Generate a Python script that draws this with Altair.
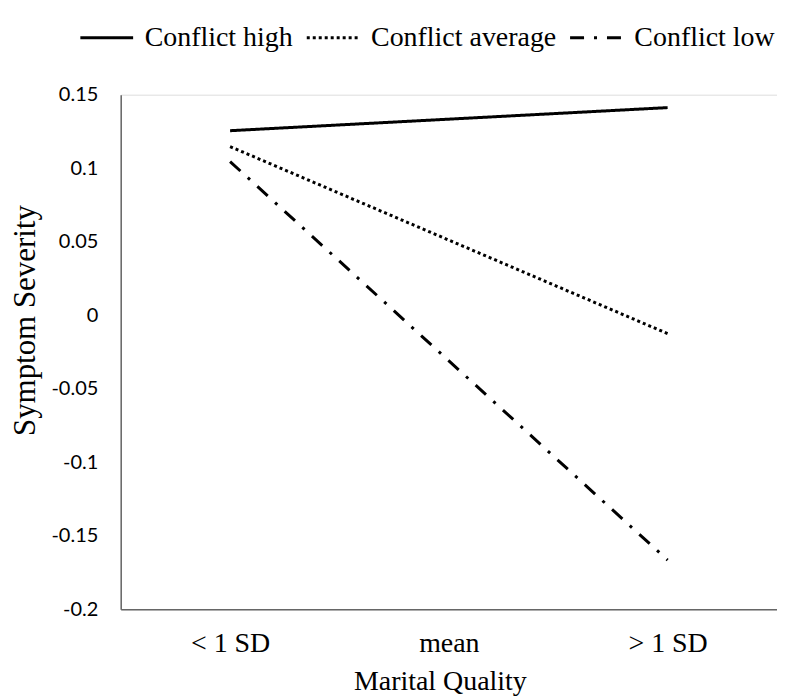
import altair as alt
import pandas as pd

categories = ["< 1 SD", "mean", "> 1 SD"]
series = ["Conflict high", "Conflict average", "Conflict low"]
x_points = ["< 1 SD", "> 1 SD"]
high = [0.1255, 0.1412]
average = [0.1147, -0.0125]
low = [0.1045, -0.1665]
y_ticks = [-0.2, -0.15, -0.1, -0.05, 0, 0.05, 0.1, 0.15]

rows = []
for name, vals in zip(series, [high, average, low]):
    for xp, v in zip(x_points, vals):
        rows.append({"quality": xp, "severity": v, "series": name})
df = pd.DataFrame(rows)

serif = "Liberation Serif"

chart = alt.Chart(df).mark_line(color="black", strokeWidth=3, strokeCap="butt").encode(
    x=alt.X("quality:N", sort=categories,
            scale=alt.Scale(type="point", domain=categories, padding=0.5),
            axis=alt.Axis(title="Marital Quality", labelAngle=0, ticks=False, grid=False,
                          labelFont=serif, labelFontSize=28, labelColor="black",
                          labelPadding=20, labelBaseline="top",
                          titleFont=serif, titleFontSize=28, titleFontWeight="normal",
                          titleColor="black", titleX=320, titleY=80,
                          titleBaseline="alphabetic",
                          domainColor="#666666", domainWidth=1.5)),
    y=alt.Y("severity:Q", scale=alt.Scale(domain=[-0.2, 0.15], nice=False, zero=False),
            axis=alt.Axis(title="Symptom Severity", values=y_ticks, ticks=False, grid=False,
                          labelExpr="toString(datum.value)",
                          labelFont="Lato", labelFontSize=20, labelColor="black",
                          labelPadding=23,
                          titleFont=serif, titleFontSize=31, titleFontWeight="normal",
                          titleColor="black", titleAngle=270, titleX=-95, titleY=226,
                          titleAlign="center", titleBaseline="middle",
                          domainColor="#666666", domainWidth=1.5)),
    strokeDash=alt.StrokeDash("series:N",
        scale=alt.Scale(domain=series, range=[[1, 0], [3, 3], [14, 10, 3, 10]]),
        legend=alt.Legend(title=None, orient="none", direction="horizontal",
                          legendX=-42, legendY=-85,
                          symbolType="stroke", symbolSize=2800, symbolStrokeWidth=3,
                          symbolStrokeColor="black",
                          labelFont=serif, labelFontSize=28, labelColor="black",
                          labelOffset=10, columnPadding=7, labelLimit=400)),
).properties(
    width=658, height=516,
    autosize=alt.AutoSizeParams(type="none"),
    padding={"left": 113, "top": 86, "right": 0, "bottom": 90},
).configure_view(stroke=None).configure(background="white")

chart.save("out.html", embed_options={"renderer": "svg", "actions": False})
